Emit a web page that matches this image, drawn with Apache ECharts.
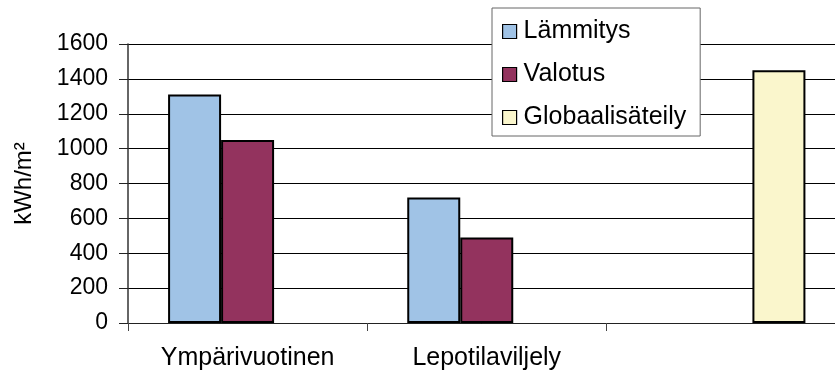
<!DOCTYPE html>
<html>
<head>
<meta charset="utf-8">
<script src="https://cdn.jsdelivr.net/npm/echarts@6/dist/echarts.min.js"></script>
<style>
  html, body { margin: 0; padding: 0; background: #fff; }
  #chart { width: 835px; height: 378px; }
</style>
</head>
<body>
<div id="chart"></div>
<script>
// Energy per square metre by cultivation mode, plus global irradiance
const categories = ['Ympärivuotinen', 'Lepotilaviljely', ''];
const lammitys = [1310, 720, null];
const valotus = [1050, 490, null];
const globaalisateily = [null, null, 1450];
const seriesNames = ['Lämmitys', 'Valotus', 'Globaalisäteily'];
const yTicks = { min: 0, max: 1600, interval: 200 };

const font = 'Liberation Sans, Arial, sans-serif';
const barBorder = { borderColor: '#000', borderWidth: 2 };

const chart = echarts.init(document.getElementById('chart'), null, { renderer: 'canvas' });

chart.setOption({
  animation: false,
  backgroundColor: '#fff',
  textStyle: { fontFamily: font, color: '#000' },
  grid: {
    left: 128,
    right: -10.5,
    top: 44,
    bottom: 55,
    containLabel: false,
    outerBoundsMode: 'none'
  },
  legend: {
    orient: 'vertical',
    left: 492,
    top: 8,
    padding: [11, 14, 6, 10],
    itemGap: 18,
    itemWidth: 14,
    itemHeight: 14,
    icon: 'rect',
    backgroundColor: '#fff',
    borderColor: '#666',
    borderWidth: 1,
    borderRadius: 0,
    z: 10,
    textStyle: { fontFamily: font, fontSize: 25, lineHeight: 24, color: '#000', padding: [0, 0, 0, 2] },
    itemStyle: { borderColor: '#000', borderWidth: 1.2 },
    data: seriesNames
  },
  xAxis: {
    type: 'category',
    data: categories,
    axisLine: { show: true, lineStyle: { color: '#222', width: 1 } },
    axisTick: { show: true, length: 8, alignWithLabel: false, lineStyle: { color: '#444', width: 1 } },
    axisLabel: { fontFamily: font, fontSize: 25, color: '#000', margin: 23 },
    splitLine: { show: false }
  },
  yAxis: {
    type: 'value',
    min: yTicks.min,
    max: yTicks.max,
    interval: yTicks.interval,
    name: 'kWh/m²',
    nameLocation: 'middle',
    nameRotate: 90,
    nameGap: 92,
    nameTextStyle: { fontFamily: font, fontSize: 24, color: '#000' },
    axisLine: { show: true, lineStyle: { color: '#333', width: 1.5 } },
    axisTick: { show: true, length: 9, inside: false, lineStyle: { color: '#222', width: 1 } },
    axisLabel: {
      fontFamily: font, fontSize: 23, color: '#000', margin: 20,
      formatter: function (v) { return String(v); }
    },
    splitLine: {
      show: true,
      lineStyle: { color: '#000', width: 1 }
    }
  },
  series: [
    {
      name: seriesNames[0],
      type: 'bar',
      data: lammitys,
      barWidth: 53,
      barGap: '0%',
      itemStyle: Object.assign({ color: '#A0C3E6' }, barBorder)
    },
    {
      name: seriesNames[1],
      type: 'bar',
      data: valotus,
      barWidth: 53,
      barGap: '0%',
      itemStyle: Object.assign({ color: '#93335E' }, barBorder)
    },
    {
      name: seriesNames[2],
      type: 'bar',
      data: globaalisateily,
      barWidth: 53,
      barGap: '0%',
      itemStyle: Object.assign({ color: '#FAF6CC' }, barBorder)
    }
  ]
});
</script>
</body>
</html>
